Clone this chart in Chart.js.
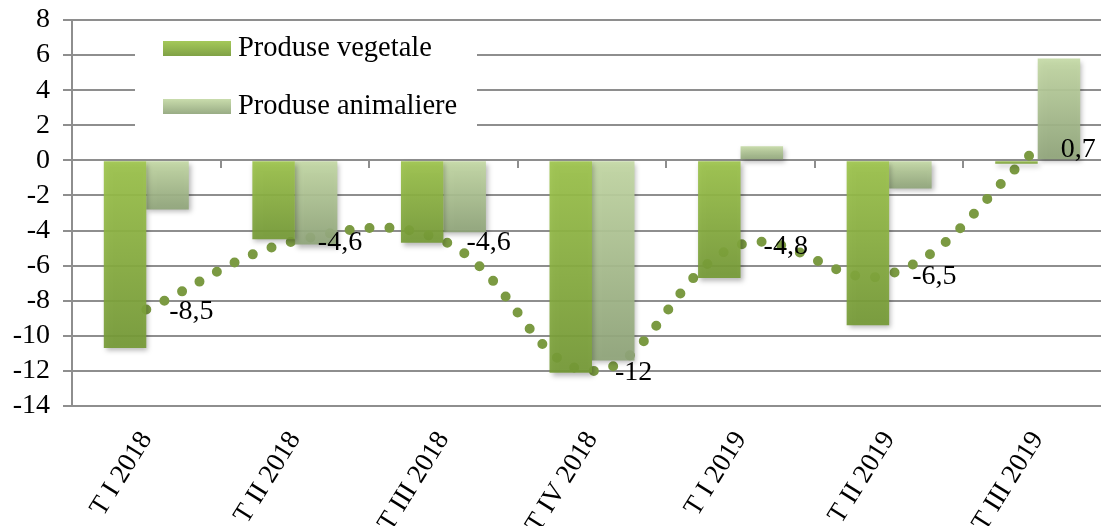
<!DOCTYPE html>
<html>
<head>
<meta charset="utf-8">
<script src="https://cdn.jsdelivr.net/npm/chart.js@4.4.0/dist/chart.umd.min.js"></script>
<style>
html, body { margin: 0; padding: 0; overflow: hidden; background: #fff; }
#wrap { width: 1112px; height: 526px; }
</style>
</head>
<body>
<div id="wrap"><canvas id="myChart" width="1112" height="526"></canvas></div>
<script>
const labels = ['T I 2018', 'T II 2018', 'T III 2018', 'T IV 2018', 'T I 2019', 'T II 2019', 'T III 2019'];
const vegetale = [-10.7, -4.5, -4.7, -12.1, -6.7, -9.4, -0.2];
const animaliere = [-2.8, -4.8, -4.1, -11.4, 0.8, -1.6, 5.8];
const total = [-8.5, -4.6, -4.6, -12, -4.8, -6.5, 0.7];
const seriesNames = ['Produse vegetale', 'Produse animaliere'];
const yMin = -14, yMax = 8, yStep = 2;

const FONT = 'Liberation Serif';
const gridColor = '#8e8e8e';
const vegColors = ['rgba(157,196,75,0.92)', 'rgba(117,154,54,0.92)'];
const animColors = ['rgba(196,217,165,0.92)', 'rgba(144,165,122,0.92)'];
const dotColor = '#7b9a42';

// vertical gradient per bar, light at top, dark at bottom
function barGradient(colors) {
    return function (c) {
        const chart = c.chart;
        if (c.type !== 'data' || !chart.chartArea) return colors[1];
        const y = chart.scales.y;
        const p0 = y.getPixelForValue(0);
        const p1 = y.getPixelForValue(c.parsed.y);
        const top = Math.min(p0, p1), bot = Math.max(p0, p1);
        if (bot - top < 2) return colors[0];
        const g = chart.ctx.createLinearGradient(0, top, 0, bot);
        g.addColorStop(0, colors[0]);
        g.addColorStop(1, colors[1]);
        return g;
    };
}

const barShadow = {
    id: 'barShadow',
    beforeDatasetDraw(chart, args) {
        if (chart.data.datasets[args.index].type === 'line') return;
        const ctx = chart.ctx;
        ctx.save();
        ctx.shadowColor = 'rgba(0,0,0,0.3)';
        ctx.shadowBlur = 5;
        ctx.shadowOffsetX = 2;
        ctx.shadowOffsetY = 3;
    },
    afterDatasetDraw(chart, args) {
        if (chart.data.datasets[args.index].type === 'line') return;
        chart.ctx.restore();
    }
};

// legend inside the plot, on a white box
const legendBox = {
    id: 'legendBox',
    beforeDatasetsDraw(chart) {
        const ctx = chart.ctx;
        ctx.save();
        ctx.fillStyle = '#fff';
        ctx.fillRect(135, 22, 342, 118);
        const sets = [vegColors, animColors];
        const ys = [41, 99];
        sets.forEach(function (cols, i) {
            const g = ctx.createLinearGradient(0, ys[i], 0, ys[i] + 15);
            g.addColorStop(0, cols[0]);
            g.addColorStop(1, cols[1]);
            ctx.fillStyle = g;
            ctx.fillRect(163, ys[i], 68, 15);
            ctx.fillStyle = '#000';
            ctx.font = '28.5px "' + FONT + '"';
            ctx.textBaseline = 'middle';
            ctx.textAlign = 'left';
            ctx.fillText(seriesNames[i], 238, ys[i] + 8);
        });
        ctx.restore();
    }
};

// value labels next to the dotted line points
const lineLabels = {
    id: 'lineLabels',
    afterDatasetsDraw(chart) {
        const meta = chart.getDatasetMeta(2);
        const ctx = chart.ctx;
        ctx.save();
        ctx.fillStyle = '#000';
        ctx.font = '28px "' + FONT + '"';
        ctx.textBaseline = 'middle';
        ctx.textAlign = 'left';
        meta.data.forEach(function (pt, i) {
            ctx.fillText(String(total[i]).replace('.', ','), pt.x + 23, pt.y + 2);
        });
        ctx.restore();
    }
};

const data = {
    labels: labels,
    datasets: [{
        type: 'bar',
        label: seriesNames[0],
        data: vegetale,
        backgroundColor: barGradient(vegColors),
        borderWidth: 0,
        order: 0
    }, {
        type: 'bar',
        label: seriesNames[1],
        data: animaliere,
        backgroundColor: barGradient(animColors),
        borderWidth: 0,
        order: 0
    }, {
        type: 'line',
        label: 'Total',
        data: total,
        borderColor: dotColor,
        borderWidth: 10,
        borderDash: [0, 20],
        borderCapStyle: 'round',
        tension: 0.4,
        pointRadius: 0,
        fill: false,
        order: 1
    }]
};

const config = {
    data: data,
    options: {
        responsive: false,
        animation: false,
        layout: { padding: { top: 20, left: 0, right: 0, bottom: 0 } },
        datasets: {
            bar: { categoryPercentage: 0.572, barPercentage: 1.0 }
        },
        plugins: {
            legend: { display: false },
            tooltip: { enabled: false }
        },
        scales: {
            x: {
                type: 'category',
                offset: true,
                grid: { display: false, drawTicks: false },
                border: { display: false },
                ticks: {
                    color: '#000',
                    font: { family: FONT, size: 27 },
                    minRotation: 58,
                    maxRotation: 58,
                    padding: 20,
                    autoSkip: false
                },
                afterFit: function (scale) { scale.height = 120; }
            },
            x2: {
                type: 'category',
                labels: labels,
                offset: true,
                position: { y: 0 },
                grid: {
                    offset: true,
                    drawOnChartArea: false,
                    drawTicks: true,
                    tickLength: 8,
                    color: gridColor,
                    lineWidth: 2
                },
                border: { display: false },
                ticks: { display: false }
            },
            y: {
                min: yMin,
                max: yMax,
                ticks: {
                    stepSize: yStep,
                    autoSkip: false,
                    color: '#000',
                    padding: 13,
                    font: { family: FONT, size: 28 },
                    callback: function (v) { return String(v); }
                },
                grid: {
                    color: gridColor,
                    lineWidth: 2,
                    tickLength: 9
                },
                border: { display: true, color: gridColor, width: 2 },
                afterFit: function (scale) {
                    scale.width = 72;
                    scale.paddingTop = 0;
                    scale.paddingBottom = 0;
                }
            }
        }
    },
    plugins: [barShadow, legendBox, lineLabels]
};

const myChart = new Chart(
    document.getElementById('myChart'),
    config
);
</script>
</body>
</html>
